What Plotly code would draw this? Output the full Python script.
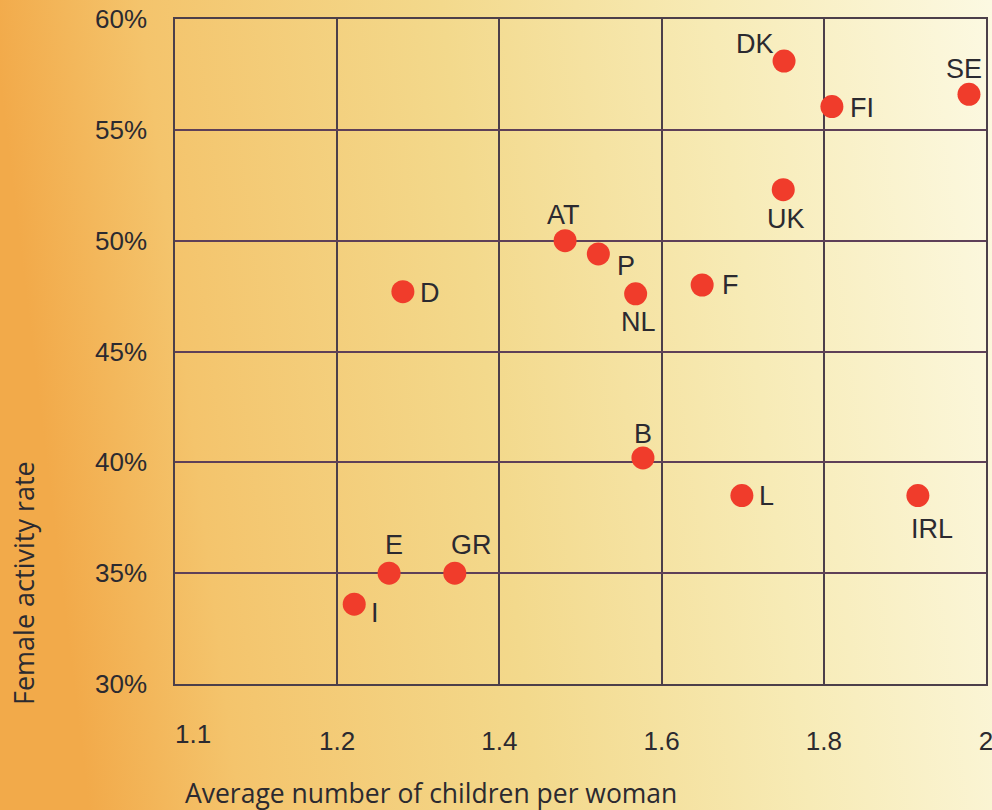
import base64
import plotly.graph_objects as go

# ---- data ----
countries = ["DK", "FI", "SE", "UK", "AT", "P", "NL", "F", "D", "B", "L", "IRL", "E", "GR", "I"]
children = [1.751, 1.810, 1.979, 1.750, 1.481, 1.522, 1.568, 1.650, 1.281, 1.577, 1.699, 1.916, 1.264, 1.345, 1.221]
activity = [58.1, 56.05, 56.6, 52.3, 50.0, 49.4, 47.6, 48.0, 47.7, 40.2, 38.5, 38.5, 35.0, 35.0, 33.6]
x_tickvals = [1.0, 1.2, 1.4, 1.6, 1.8, 2.0]
x_ticktext = ["", "1.2", "1.4", "1.6", "1.8", "2"]
y_tickvals = [30, 35, 40, 45, 50, 55, 60]
y_ticktext = ["30%", "35%", "40%", "45%", "50%", "55%", "60%"]

# label offsets (pixels) relative to each marker
label_dx = [-29, 30, -5, 3, -2, 28, 3, 28, 27, 0, 25, 14, 5, 17, 21]
label_dy = [17, -1, 25, -29, 26, -12, -28, 0, -1, 24, 0, -33, 28, 28, -9]

W, H = 992, 810
L_M, R_M, T_M, B_M = 175, 6, 19, 126
pw, ph = W - L_M - R_M, H - T_M - B_M

# background gradient as svg image
svg = f'''<svg xmlns="http://www.w3.org/2000/svg" width="{W}" height="{H}" preserveAspectRatio="none" viewBox="0 0 {W} {H}">
<defs><linearGradient id="g" x1="0" y1="0.1" x2="1" y2="0">
<stop offset="0" stop-color="#F2AA4A"/>
<stop offset="0.15" stop-color="#F4C46C"/>
<stop offset="0.45" stop-color="#F3D98C"/>
<stop offset="0.72" stop-color="#F7EBB6"/>
<stop offset="1" stop-color="#FCF9E2"/>
</linearGradient></defs>
<rect width="{W}" height="{H}" fill="url(#g)"/></svg>'''
src = "data:image/svg+xml;base64," + base64.b64encode(svg.encode()).decode()

tick_font = dict(family="Liberation Sans, Arial, sans-serif", size=26, color="#2b2a30")
label_font = dict(family="Liberation Sans, Arial, sans-serif", size=27, color="#2b2a30")
xtitle_font = dict(family="Open Sans, Noto Sans, sans-serif", size=26.5, color="#2b2a30")
ytitle_font = dict(family="Open Sans, Noto Sans, sans-serif", size=27, color="#2b2a30")
grid_col = "#4c3f4a"

fig = go.Figure()
fig.add_trace(go.Scatter(
    x=children, y=activity, mode="markers",
    marker=dict(size=23, color="#F03C2B", line=dict(width=0)),
    text=countries, hoverinfo="text", showlegend=False,
))

annotations = []
for c, xv, yv, dx, dy in zip(countries, children, activity, label_dx, label_dy):
    annotations.append(dict(x=xv, y=yv, xref="x", yref="y", text=c, showarrow=False,
                            xanchor="center", yanchor="middle", xshift=dx, yshift=dy, font=label_font))
# first x tick label (printed "1.1" at the left edge in the original)
annotations.append(dict(x=1.022, y=0, xref="x", yref="paper", text="1.1", showarrow=False,
                        xanchor="center", yanchor="top", yshift=-33, font=tick_font))
annotations.append(dict(x=-(175 - 183) / pw, y=-(793 - 684) / ph, xref="paper", yref="paper",
                        text="Average number of children per woman", showarrow=False,
                        xanchor="left", yanchor="middle", font=xtitle_font))
annotations.append(dict(x=-(175 - 23) / pw, y=1 - (583 - 19) / ph, xref="paper", yref="paper",
                        text="Female activity rate", showarrow=False, textangle=-90,
                        xanchor="center", yanchor="middle", font=ytitle_font))

fig.update_layout(
    width=W, height=H,
    margin=dict(l=L_M, r=R_M, t=T_M, b=B_M, autoexpand=False),
    paper_bgcolor="rgba(0,0,0,0)", plot_bgcolor="rgba(0,0,0,0)",
    images=[dict(source=src, xref="paper", yref="paper", x=-L_M / pw, y=1 + T_M / ph,
                 sizex=W / pw, sizey=H / ph, xanchor="left", yanchor="top",
                 sizing="stretch", layer="below")],
    annotations=annotations,
    xaxis=dict(range=[1.0, 2.0], tickvals=x_tickvals, ticktext=x_ticktext,
               showgrid=True, gridcolor=grid_col, gridwidth=1.5, zeroline=False,
               showline=True, mirror=True, linecolor=grid_col, linewidth=1.5, automargin=False,
               ticks="", ticklabelstandoff=33, ticklabeloverflow="allow",
               tickfont=tick_font, fixedrange=True),
    yaxis=dict(range=[30, 60], tickvals=y_tickvals, ticktext=y_ticktext,
               showgrid=True, gridcolor="#5e4058", gridwidth=1.5, zeroline=False,
               showline=True, mirror=True, linecolor=grid_col, linewidth=1.5, automargin=False,
               ticks="", ticklabelstandoff=21, ticklabeloverflow="allow",
               tickfont=tick_font, fixedrange=True),
)

fig.write_html(
    "out.html",
    config={"displayModeBar": False},
    post_script="document.documentElement.style.overflow='hidden';"
                "document.body.style.margin='0';document.body.style.padding='0';"
                "document.body.style.overflow='hidden';",
)
